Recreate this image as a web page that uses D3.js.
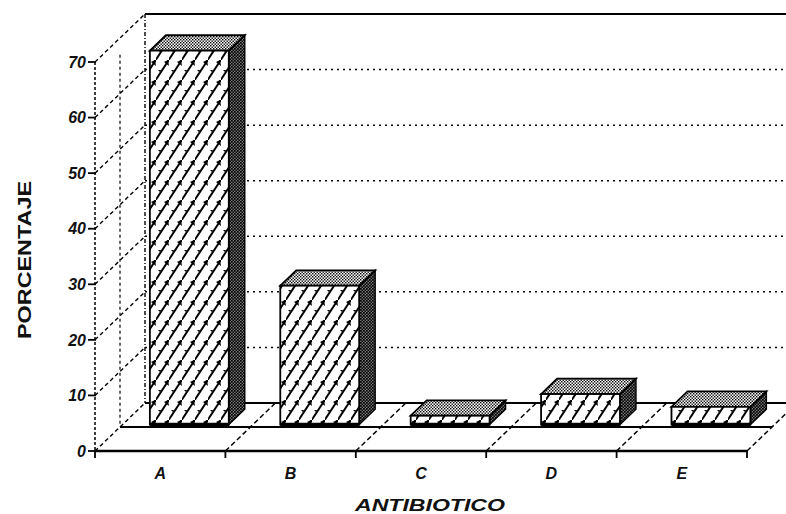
<!DOCTYPE html>
<html>
<head>
<meta charset="utf-8">
<script src="https://cdn.jsdelivr.net/npm/d3@7"></script>
<style>
  html, body { margin: 0; padding: 0; background: #fff; }
  svg { display: block; }
  .lbl { font-family: "Liberation Sans", Arial, sans-serif; fill: #111; }
</style>
</head>
<body>
<div id="chart"></div>
<script>
// 3D column chart: percentage per antibiotic

const categories = ["A", "B", "C", "D", "E"];
const values = [67.3, 25, 1.6, 5.5, 3.2];
const yTicks = [0, 10, 20, 30, 40, 50, 60, 70];
const yTitle = "PORCENTAJE";
const xTitle = "ANTIBIOTICO";

const W = 786, H = 514;
const DX = 50, DY = -48;             // full floor depth offset
const D_FRONT = 0.55, D_BACK = 0.87; // bar depth slice
const RIGHT_EDGE = 800;

const svg = d3.select("#chart").append("svg")
  .attr("width", W).attr("height", H).attr("viewBox", `0 0 ${W} ${H}`);

const x = d3.scaleBand().domain(categories).range([95, 747]);
const y = d3.scaleLinear().domain([0, 70]).range([451, 62]);

// patterns
const defs = svg.append("defs");
const hatch = defs.append("pattern").attr("id", "hatch")
  .attr("patternUnits", "userSpaceOnUse").attr("width", 13).attr("height", 20);
hatch.append("rect").attr("width", 13).attr("height", 20).attr("fill", "#fff");
hatch.append("path").attr("d", "M-1,21 L13.5,-1").attr("stroke", "#000").attr("stroke-width", 2);
hatch.append("path").attr("d", "M8,2 L12,0 L13,6 Z M-5,22 L-1,20 L0,26 Z M8,22 L12,20 L13,26 Z M2,10 L5,10 L4,12 Z")
  .attr("fill", "#000");

function dots(id, bg, size) {
  const p = defs.append("pattern").attr("id", id)
    .attr("patternUnits", "userSpaceOnUse").attr("width", 3).attr("height", 3);
  p.append("rect").attr("width", 3).attr("height", 3).attr("fill", bg);
  p.append("rect").attr("x", 0).attr("y", 0).attr("width", size).attr("height", size).attr("fill", "#000");
  p.append("rect").attr("x", 1.5).attr("y", 1.5).attr("width", size).attr("height", size).attr("fill", "#000");
}
dots("topDots", "#fff", 1.4);
dots("sideDots", "#777", 1.7);

const g = svg.append("g");
const yBack = (v) => y(v) + DY;
const xBack = 95 + DX;

// back wall gridlines
g.append("g").selectAll("line").data(yTicks.filter((d) => d > 0 && d < 70)).join("line")
  .attr("x1", xBack).attr("x2", RIGHT_EDGE)
  .attr("y1", (d) => yBack(d)).attr("y2", (d) => yBack(d))
  .attr("stroke", "#000").attr("stroke-width", 1.5).attr("stroke-dasharray", "2,4");

// back wall top + floor back line
g.append("line").attr("x1", xBack).attr("x2", RIGHT_EDGE)
  .attr("y1", yBack(70)).attr("y2", yBack(70))
  .attr("stroke", "#000").attr("stroke-width", 2);
g.append("line").attr("x1", xBack).attr("x2", RIGHT_EDGE)
  .attr("y1", yBack(0)).attr("y2", yBack(0))
  .attr("stroke", "#000").attr("stroke-width", 1.8);

// back wall vertical and mid-depth vertical
g.append("line").attr("x1", xBack).attr("x2", xBack)
  .attr("y1", yBack(70)).attr("y2", yBack(0))
  .attr("stroke", "#000").attr("stroke-width", 1.4).attr("stroke-dasharray", "4,2,1,2");
g.append("line").attr("x1", 95 + DX / 2).attr("x2", 95 + DX / 2)
  .attr("y1", y(67) + DY / 2).attr("y2", y(0) + DY / 2)
  .attr("stroke", "#000").attr("stroke-width", 1.2).attr("stroke-dasharray", "3,3");

// side wall diagonals
g.append("g").selectAll("line").data(yTicks).join("line")
  .attr("x1", 95).attr("x2", xBack)
  .attr("y1", (d) => y(d)).attr("y2", (d) => yBack(d))
  .attr("stroke", "#000").attr("stroke-width", 1.4).attr("stroke-dasharray", "4,3");

// floor diagonals at category boundaries
const bounds = categories.map((c) => x(c)).concat([x.range()[1]]);
g.append("g").selectAll("line").data(bounds.slice(1)).join("line")
  .attr("x1", (d) => d).attr("x2", (d) => d + DX)
  .attr("y1", y(0)).attr("y2", y(0) + DY)
  .attr("stroke", "#000").attr("stroke-width", 1.5).attr("stroke-dasharray", "5,3");

// mid-depth floor line
g.append("line").attr("x1", 95 + DX / 2).attr("x2", x.range()[1] + DX / 2)
  .attr("y1", y(0) + DY / 2).attr("y2", y(0) + DY / 2)
  .attr("stroke", "#000").attr("stroke-width", 2);

// bars
const ddx = DX * (D_BACK - D_FRONT), ddy = DY * (D_BACK - D_FRONT);
const bars = g.append("g").selectAll("g").data(categories.map((c, i) => ({ c, v: values[i] }))).join("g");
const bx0 = (d) => x(d.c) + x.bandwidth() * 0.21 + DX * D_FRONT;
const bx1 = (d) => bx0(d) + x.bandwidth() * 0.605;
const byT = (d) => y(d.v) + DY * D_FRONT;
const byB = y(0) + DY * D_FRONT;

bars.append("path")
  .attr("d", (d) => `M${bx1(d)},${byT(d)} L${bx1(d) + ddx},${byT(d) + ddy} L${bx1(d) + ddx},${byB + ddy} L${bx1(d)},${byB} Z`)
  .attr("fill", "url(#sideDots)").attr("stroke", "#000").attr("stroke-width", 1.4);
bars.append("path")
  .attr("d", (d) => `M${bx0(d)},${byT(d)} L${bx0(d) + ddx},${byT(d) + ddy} L${bx1(d) + ddx},${byT(d) + ddy} L${bx1(d)},${byT(d)} Z`)
  .attr("fill", "url(#topDots)").attr("stroke", "#000").attr("stroke-width", 1.8);
bars.append("rect")
  .attr("x", bx0).attr("y", byT)
  .attr("width", (d) => bx1(d) - bx0(d)).attr("height", (d) => byB - byT(d))
  .attr("fill", "url(#hatch)").attr("stroke", "#000").attr("stroke-width", 1.8);
bars.append("line")
  .attr("x1", bx0).attr("x2", bx1).attr("y1", byB).attr("y2", byB)
  .attr("stroke", "#000").attr("stroke-width", 3.5);

// front axes
g.append("line").attr("x1", 95).attr("x2", 95).attr("y1", y(70)).attr("y2", y(0))
  .attr("stroke", "#000").attr("stroke-width", 1.5).attr("stroke-dasharray", "3,2");
g.append("line").attr("x1", 95).attr("x2", x.range()[1]).attr("y1", y(0)).attr("y2", y(0))
  .attr("stroke", "#000").attr("stroke-width", 2.4);

g.append("g").selectAll("line").data(yTicks).join("line")
  .attr("x1", 88).attr("x2", 96).attr("y1", (d) => y(d)).attr("y2", (d) => y(d))
  .attr("stroke", "#000").attr("stroke-width", 1.8);
g.append("g").selectAll("line").data(bounds).join("line")
  .attr("x1", (d) => d).attr("x2", (d) => d).attr("y1", y(0)).attr("y2", y(0) + 7)
  .attr("stroke", "#000").attr("stroke-width", 1.8);

// labels
g.append("g").selectAll("text").data(yTicks).join("text")
  .attr("class", "lbl").attr("x", 86).attr("y", (d) => y(d))
  .attr("dy", "0.36em").attr("text-anchor", "end")
  .attr("font-size", 16).attr("font-style", "italic").attr("font-weight", "bold")
  .text((d) => d);

g.append("g").selectAll("text").data(categories).join("text")
  .attr("class", "lbl").attr("x", (d) => x(d) + x.bandwidth() / 2).attr("y", 479)
  .attr("text-anchor", "middle").attr("font-size", 16).attr("font-style", "italic").attr("font-weight", "bold")
  .text((d) => d);

svg.append("text").attr("class", "lbl")
  .attr("transform", "translate(31,260) rotate(-90)")
  .attr("text-anchor", "middle").attr("font-size", 18).attr("font-weight", "bold")
  .attr("textLength", 158).attr("lengthAdjust", "spacingAndGlyphs")
  .text(yTitle);

svg.append("text").attr("class", "lbl")
  .attr("x", 430).attr("y", 511).attr("text-anchor", "middle")
  .attr("font-size", 17).attr("font-style", "italic").attr("font-weight", "bold")
  .attr("textLength", 150).attr("lengthAdjust", "spacingAndGlyphs")
  .text(xTitle);
</script>
</body>
</html>
